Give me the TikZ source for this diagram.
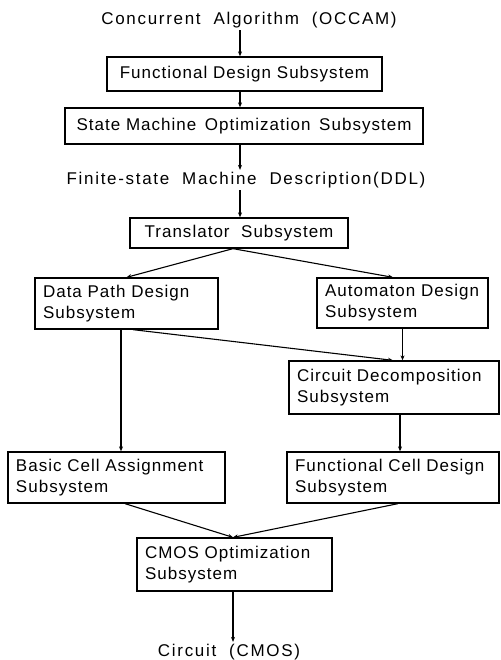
\documentclass[tikz,border=0pt]{standalone}
\usepackage{fontspec}
\setmainfont{Liberation Sans}[LetterSpace=6.0]
\newfontfamily\widefont{Liberation Sans}[LetterSpace=10.0]
\usetikzlibrary{arrows.meta,calc}
\begin{document}
\begin{tikzpicture}[x=1pt,y=-1pt,
  every node/.style={font=\fontsize{17}{21}\selectfont},
  sbox/.style={draw,line width=1.3pt,rectangle,inner xsep=8pt,inner ysep=0pt,align=left},
  lbl/.style={inner sep=2pt,font=\widefont\fontsize{17}{21}\selectfont},
  arr/.style={line width=1.1pt,-{Stealth[length=5pt,width=4pt]}}]
\useasboundingbox (0,0) rectangle (500,660);
\coordinate (c240) at (240,0);
\node[lbl] (top) at (249,20) {Concurrent \ Algorithm \ (OCCAM)};
\node[sbox,minimum width=275,minimum height=34,align=center] (f1) at (244.5,74) {Functional Design Subsystem};
\node[sbox,minimum width=358,minimum height=36,align=center] (f2) at (244,126) {State Machine \,Optimization \,Subsystem};
\node[lbl] (mid) at (246,180) {Finite-state \ Machine \ Description(DDL)};
\node[sbox,minimum width=218,minimum height=30,align=center] (tr) at (239,233) {Translator\ \ Subsystem};
\node[sbox,text width=167,minimum height=51] (dp) at (126.5,303.5) {Data Path Design\\Subsystem};
\node[sbox,text width=155,minimum height=50] (au) at (402.5,303) {Automaton Design\\Subsystem};
\node[sbox,text width=194,minimum height=53] (cd) at (394,387.5) {Circuit Decomposition\\Subsystem};
\node[sbox,text width=201,minimum height=51,inner xsep=8pt] (bc) at (116.5,477.5) {Basic Cell Assignment\\Subsystem};
\node[sbox,text width=196,minimum height=51] (fc) at (393,477.5) {Functional Cell Design\\Subsystem};
\node[sbox,text width=179,minimum height=53] (cm) at (234.5,564.5) {CMOS Optimization\\Subsystem};
\node[lbl] (bot) at (229,652) {Circuit \ (CMOS)};
\draw[arr] (top.south -| c240) -- (f1.north -| c240);
\draw[arr] (f1.south -| c240) -- (f2.north -| c240);
\draw[arr] (f2.south -| c240) -- (mid.north -| c240);
\draw[arr] (mid.south -| c240) -- (tr.north -| c240);
\draw[arr] ($(tr.south)+(-6,0)$) -- (dp.north);
\draw[arr] ($(tr.south)+(-6,0)$) -- ($(au.north)+(-9.5,0)$);
\draw[arr] ($(dp.south)+(-5.5,0)$) -- ($(bc.north)+(4.5,0)$);
\draw[arr] ($(dp.south)+(6.5,0)$) -- ($(cd.north)+(-1,0)$);
\draw[arr] (au.south) -- ($(cd.north)+(8.5,0)$);
\draw[arr] ($(cd.south)+(6,0)$) -- ($(fc.north)+(7,0)$);
\draw[arr] ($(bc.south)+(8.5,0)$) -- ($(cm.north)+(-1.5,0)$);
\draw[arr] ($(fc.south)+(5,0)$) -- ($(cm.north)+(-1.5,0)$);
\draw[arr] ($(cm.south)+(-1.5,0)$) -- ($(bot.north)+(4,0)$);
\end{tikzpicture}
\end{document}
